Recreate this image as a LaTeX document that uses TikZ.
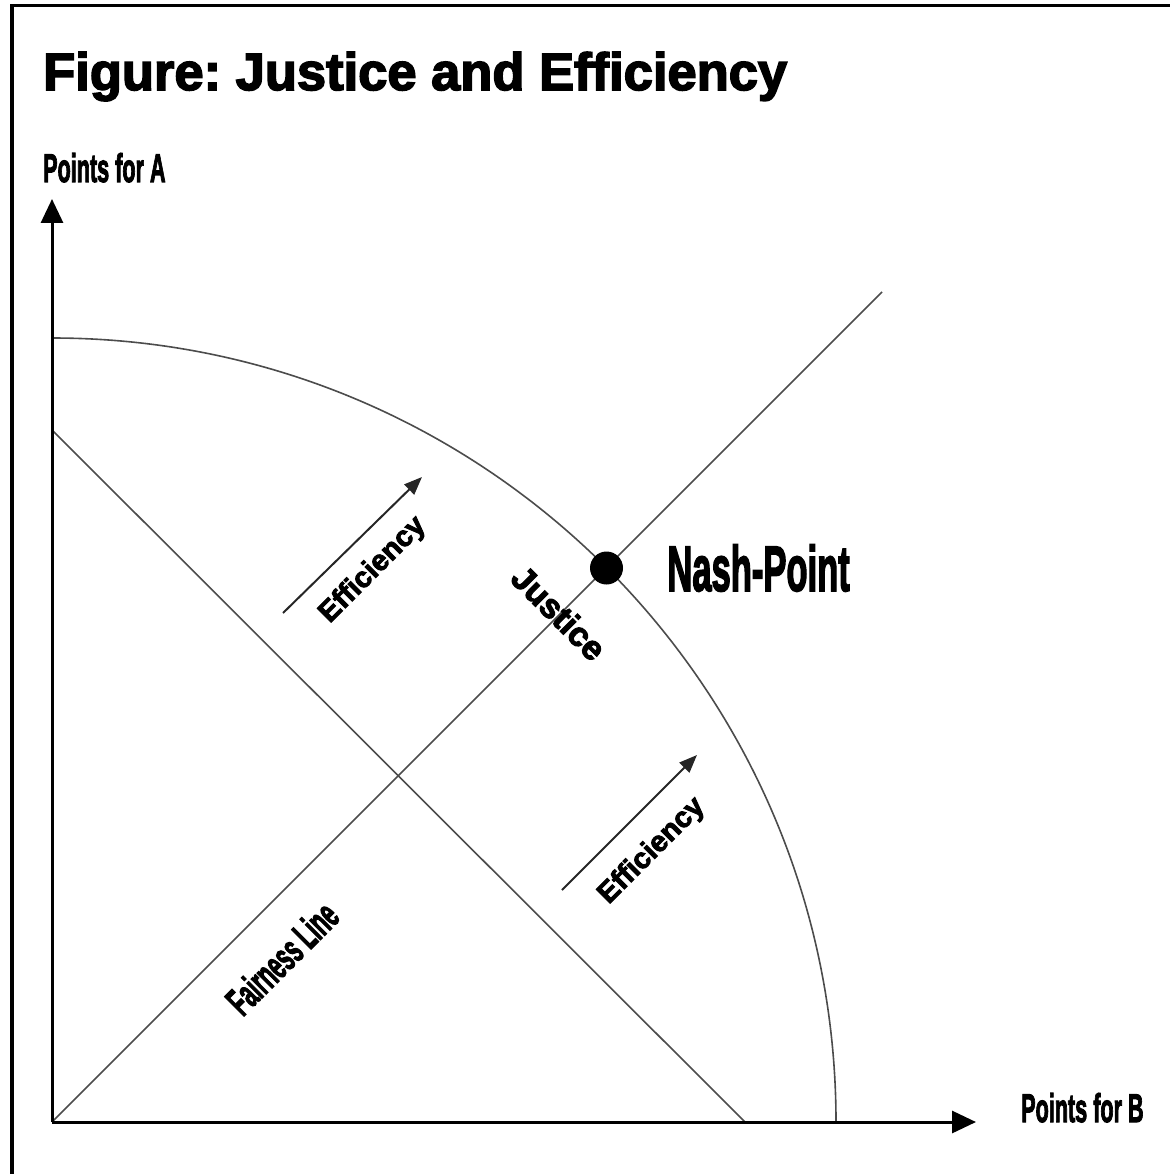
\documentclass[tikz,border=0pt]{standalone}
\usepackage{graphicx}
\usepackage{fontspec}
\setmainfont{Liberation Sans}
\newfontfamily\heavyfont[FakeBold=3]{Liberation Sans Bold}
\newfontfamily\narrowfont[FakeBold=3]{Liberation Sans Bold}
\newcommand{\narrowText}[1]{\scalebox{0.54}[1]{\narrowfont #1}}
\usetikzlibrary{arrows.meta, positioning}
\frenchspacing

\begin{document}
\begin{tikzpicture}[
        x=1pt, y=-1pt,
        frameLine/.style={line width=3.5pt, line cap=rect},
        axisLine/.style={
            line width=3pt, -{Triangle[length=24pt, width=22pt]}
        },
        thinLine/.style={line width=1.6pt, draw=black!70},
        effArrow/.style={
            line width=2pt, draw=black!85, -{Triangle[length=18pt, width=14pt]}
        },
        axisLabel/.style={
            inner sep=0pt, anchor=base west,
            font=\fontsize{40}{44}\selectfont
        },
        slopeLabel/.style={
            inner sep=0pt, font=\heavyfont\fontsize{29}{32}\selectfont
        },
        nashDot/.style={
            circle, fill=black, inner sep=0pt, minimum size=33pt
        }
    ]
        \useasboundingbox (0,0) rectangle (1169,1174);

        % Frame
        \draw [frameLine] (12,1176) -- (12,5.5) -- (1172,5.5);

        % Title
        \node (title) [inner sep=0pt, anchor=base west,
            font=\heavyfont\fontsize{52.5}{60}\selectfont]
            at (43,90) {Figure: Justice and Efficiency};

        % Coordinates
        \coordinate (origin) at (52,1122);
        \coordinate (yEnd) at (52,199);
        \coordinate (xEnd) at (976,1122);
        \coordinate (fairEnd) at (882,292);
        \coordinate (diagTop) at (52,430);
        \coordinate (diagBottom) at (745,1122);
        \coordinate (frontTop) at (52,338);
        \coordinate (eff1Start) at (283,613);
        \coordinate (eff1End) at (422,477);
        \coordinate (eff2Start) at (562,890);
        \coordinate (eff2End) at (697,755);

        % Lines
        \draw [thinLine] (frontTop) arc[start angle=-90, end angle=0, radius=784];
        \draw [thinLine] (origin) -- (fairEnd);
        \draw [thinLine] (diagTop) -- (diagBottom);

        % Nodes
        \node (nash) [nashDot] at (606.5,568) {};
        \node (nashLabel) [inner sep=0pt, anchor=west, right=44pt of nash,
            font=\fontsize{64}{70}\selectfont] {\narrowText{Nash-Point}};
        \node (labelA) [axisLabel] at (43,182) {\narrowText{Points for A}};
        \node (labelB) [axisLabel] at (1021,1122) {\narrowText{Points for B}};
        \node (eff1Label) [slopeLabel, rotate=45] at (373,570) {Efficiency};
        \node (eff2Label) [slopeLabel, rotate=45] at (652,851) {Efficiency};
        \node (justice) [inner sep=0pt, rotate=-45,
            font=\heavyfont\fontsize{34}{38}\selectfont] at (559,613) {Justice};
        \node (fairLabel) [inner sep=0pt, rotate=45,
            font=\fontsize{40}{44}\selectfont]
            at (282,958) {\narrowText{Fairness Line}};

        % Arrows
        \draw [axisLine] (origin) -- (yEnd);
        \draw [axisLine] (origin) -- (xEnd);
        \draw [effArrow] (eff1Start) -- (eff1End);
        \draw [effArrow] (eff2Start) -- (eff2End);
    \end{tikzpicture}
\end{document}
